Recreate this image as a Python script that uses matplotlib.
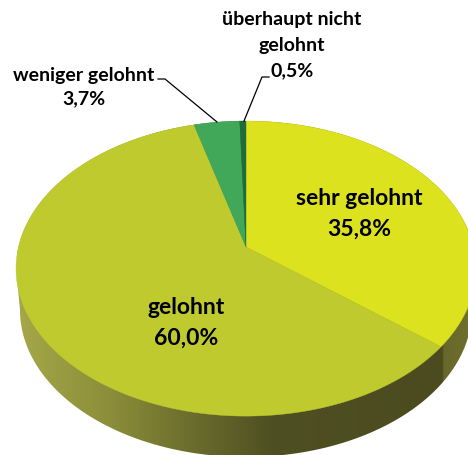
import numpy as np
import matplotlib
matplotlib.use("Agg")
import matplotlib.pyplot as plt
from matplotlib.colors import LinearSegmentedColormap
from matplotlib.patches import Polygon

categories = ["sehr gelohnt", "gelohnt", "weniger gelohnt", "überhaupt nicht gelohnt"]
shares = [35.8, 60.0, 3.7, 0.5]
share_labels = ["35,8%", "60,0%", "3,7%", "0,5%"]
slice_colors = ["#DDE21E", "#BFCA2F", "#41A85A", "#1F6B3A"]

W, H = 468, 456
fig = plt.figure(figsize=(W / 100, H / 100), dpi=100)
ax = fig.add_axes([0, 0, 1, 1])
ax.set_xlim(0, W)
ax.set_ylim(H, 0)
ax.axis("off")

APEX = (246.0, 248.0)
K, A, B = 0.146, 227.5, 144.4


def rim(theta_deg):
    """Perspective view of a pie rim; theta runs clockwise from 12 o'clock."""
    t = np.radians(theta_deg)
    u, v = np.sin(t), np.cos(t)
    w = 1 + K * v
    return APEX[0] + A * u / w, APEX[1] - B * v / w


# side wall: gradient clipped to the hull of top and bottom outlines
s = np.linspace(0, 2 * np.pi, 361)
top_x, top_y = rim(np.degrees(s))
half = np.linspace(np.pi, 0, 181)
low_x = 246 + 226 * np.cos(half)
low_y = 311 + 147 * np.sin(half)
upper = [(x, y) for x, y in zip(top_x, top_y) if y < 269]
upper.sort(key=lambda p: -p[0])
hull = upper + list(zip(low_x, low_y))
wall_cmap = LinearSegmentedColormap.from_list(
    "wall",
    [(0.0, "#A5A748"), (0.2, "#8C8E3A"), (0.34, "#72742F"), (0.56, "#4E4F22"),
     (0.93, "#4B4B1F"), (0.935, "#66672A"), (1.0, "#70712E")],
)
grad = np.linspace(0, 1, 468)[None, :]
img = ax.imshow(grad, extent=(17, 475, H, 0), cmap=wall_cmap, aspect="auto", zorder=1)
clip = Polygon(hull, closed=True, transform=ax.transData, fc="none", ec="none")
ax.add_patch(clip)
img.set_clip_path(clip)
ax.set_xlim(0, W)
ax.set_ylim(H, 0)

# top face
start = 0.0
total = sum(shares)
for share, color in zip(shares, slice_colors):
    end = start + share / total * 360
    th = np.linspace(start, end, max(int(share * 4), 3))
    x, y = rim(th)
    pts = [APEX] + list(zip(x, y))
    ax.add_patch(Polygon(pts, closed=True, fc=color, ec=color, lw=0.3, zorder=2))
    start = end

font = dict(family="Lato", weight="bold", color="black", ha="center", va="center", zorder=4)
big, small = 16.5, 14.0
ax.text(359, 199, categories[0], fontsize=big, **font)
ax.text(359, 229, share_labels[0], fontsize=big, **font)
ax.text(186, 308, categories[1], fontsize=big, **font)
ax.text(186, 338, share_labels[1], fontsize=big, **font)
ax.text(84, 75, categories[2], fontsize=small, **font)
ax.text(84, 99, share_labels[2], fontsize=small, **font)
ax.text(292, 20, "überhaupt nicht", fontsize=small, **font)
ax.text(292, 46, "gelohnt", fontsize=small, **font)
ax.text(292, 71, share_labels[3], fontsize=small, **font)

ax.plot([158, 165, 217], [80, 80, 123], color="black", lw=0.9, zorder=3)
ax.plot([269, 262, 244], [78, 78, 122], color="black", lw=0.9, zorder=3)

fig.savefig("out.png", dpi=100)
